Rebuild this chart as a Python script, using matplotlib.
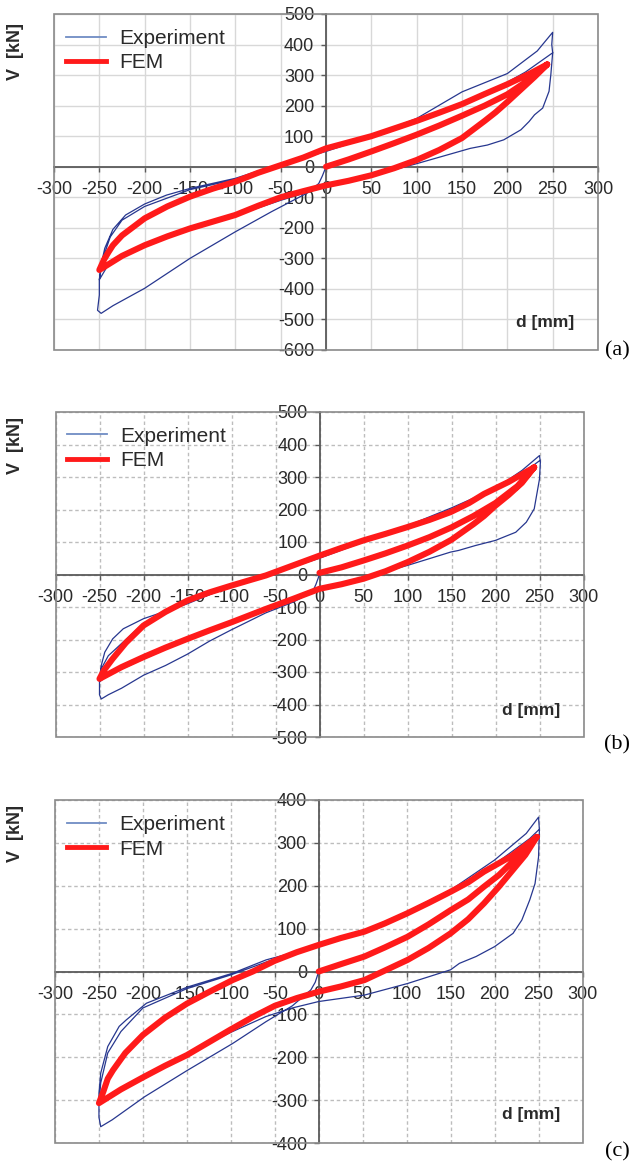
import matplotlib
matplotlib.use("Agg")
import matplotlib.pyplot as plt
from matplotlib.lines import Line2D
from matplotlib.patches import Rectangle

# ---------------- data ----------------
x_ticks = [-300, -250, -200, -150, -100, -50, 0, 50, 100, 150, 200, 250, 300]
y_ticks_a = [-600, -500, -400, -300, -200, -100, 0, 100, 200, 300, 400, 500]
y_ticks_b = [-500, -400, -300, -200, -100, 0, 100, 200, 300, 400, 500]
y_ticks_c = [-400, -300, -200, -100, 0, 100, 200, 300, 400]
panel_labels = ["(a)", "(b)", "(c)"]
series_names = ["Experiment", "FEM"]

# panel (a)
exp_d_a = [0, -4, -8, -20, -60, -100, -150, -200, -235, -248, -252, -250, -250,
           -248, -244, -235, -221, -200, -176, -150, -100, -60, 0, 50, 100, 150, 200, 233, 250,
           249, 250, 248, 246, 239, 230, 224, 215, 196, 178, 159, 100, 50, 0, -50, -100, -150, -200, -240, -250,
           -246, -238, -225, -200, -150, -100, -50, 0, 50, 100, 150, 187, 220, 250]
exp_v_a = [0, -30, -55, -85, -147, -213, -300, -398, -455, -480, -470, -420, -370,
           -320, -267, -205, -158, -122, -93, -71, -38, 0, 50, 100, 158, 245, 305, 379, 440,
           400, 373, 302, 247, 192, 170, 148, 121, 88, 71, 60, 10, -30, -65, -110, -160, -205, -260, -320, -370,
           -300, -230, -175, -130, -75, -42, 5, 55, 100, 152, 210, 255, 310, 373]
fem_d_a = [0, 25, 50, 75, 100, 125, 150, 175, 200, 225, 244,
           230, 215, 200, 187, 175, 150, 125, 100, 75, 50, 25, 0, -25, -50, -75, -100, -125, -150, -175, -200, -225, -250,
           -245, -240, -235, -225, -200, -175, -150, -125, -100, -75, -55, -25, 0, 25, 50, 75, 100, 125, 150, 175, 200, 225, 244]
fem_v_a = [0, 24, 50, 77, 105, 135, 167, 200, 237, 287, 335,
           294, 253, 212, 178, 150, 94, 55, 22, -5, -28, -46, -61, -80, -100, -128, -158, -180, -202, -228, -257, -292, -338,
           -305, -280, -257, -225, -169, -130, -98, -72, -49, -20, 0, 30, 60, 80, 100, 125, 150, 177, 205, 238, 270, 305, 335]

# panel (b)
exp_d_b = [0, -4, -8, -30, -61, -100, -125, -150, -175, -200, -225, -240, -248, -250, -250,
           -248, -244, -235, -223, -200, -150, -100, -61, 0, 50, 100, 150, 200, 230, 250,
           251, 250, 244, 235, 223, 200, 177, 158, 149, 100, 50, 0, -61, -100, -150, -200, -240, -250,
           -248, -240, -220, -200, -150, -100, -50, 0, 50, 100, 150, 200, 240, 250]
exp_v_b = [0, -30, -54, -85, -118, -170, -205, -245, -280, -310, -350, -370, -383, -370, -320,
           -280, -239, -198, -167, -136, -90, -34, -3, 50, 100, 150, 205, 265, 320, 366,
           346, 294, 202, 161, 130, 105, 89, 74, 69, 28, -10, -50, -110, -150, -200, -260, -310, -330,
           -290, -250, -200, -150, -85, -38, 5, 52, 102, 148, 200, 262, 330, 350]
fem_d_b = [0, 25, 50, 75, 100, 125, 150, 175, 200, 225, 244,
           230, 215, 200, 187, 175, 150, 125, 100, 75, 50, 25, 0, -30, -61, -100, -125, -150, -175, -200, -225, -250,
           -245, -235, -220, -200, -175, -150, -125, -100, -80, -61, -30, 0, 25, 50, 75, 100, 125, 149, 170, 187, 215, 244]
fem_v_b = [5, 22, 43, 65, 89, 115, 145, 180, 220, 272, 330,
           282, 245, 212, 180, 155, 107, 70, 38, 10, -13, -30, -44, -75, -106, -147, -172, -198, -225, -254, -285, -321,
           -295, -259, -210, -157, -115, -80, -55, -34, -18, -3, 28, 58, 82, 105, 125, 146, 168, 192, 220, 248, 285, 330]

# panel (c)
exp_d_c = [0, -4, -9, -30, -60, -98, -149, -198, -235, -248, -250, -250,
           -248, -240, -227, -219, -196, -149, -98, -60, 0, 52, 101, 150, 200, 236, 250,
           251, 250, 246, 240, 231, 221, 200, 179, 160, 150, 101, 52, 0, -30, -60, -98, -149, -198, -235, -250,
           -248, -240, -225, -200, -150, -100, -60, 0, 52, 101, 150, 200, 240, 250]
exp_v_c = [0, -25, -43, -80, -117, -168, -230, -292, -346, -362, -340, -284,
           -237, -175, -128, -113, -74, -36, -4, 27, 60, 95, 140, 190, 260, 322, 360,
           330, 267, 205, 167, 120, 89, 58, 35, 19, 4, -28, -55, -70, -85, -105, -140, -190, -245, -285, -310,
           -260, -190, -140, -85, -40, -8, 22, 62, 92, 135, 185, 250, 310, 330]
fem_d_c = [0, 25, 52, 75, 101, 125, 150, 170, 188, 205, 220, 235, 248,
           235, 220, 205, 188, 170, 150, 125, 101, 75, 52, 25, 0, -25, -50, -74, -100, -125, -150, -175, -200, -225, -250,
           -245, -240, -234, -220, -200, -175, -150, -125, -98, -75, -50, -25, 0, 25, 52, 75, 101, 125, 150, 170, 188, 220, 248]
fem_v_c = [0, 17, 35, 56, 81, 110, 143, 168, 198, 225, 255, 285, 314,
           272, 235, 198, 159, 122, 89, 55, 27, 2, -20, -35, -47, -62, -80, -105, -135, -165, -195, -220, -247, -275, -307,
           -280, -250, -230, -190, -148, -108, -75, -48, -20, 0, 25, 45, 62, 78, 93, 112, 136, 160, 186, 208, 233, 270, 314]

# ---------------- styling ----------------
W, H = 631, 1165
fig = plt.figure(figsize=(W / 100, H / 100), dpi=100)

BLUE = "#27378f"
LEG_BLUE = "#6f8cc4"
RED = "#ff1a1a"
TXT = "#2a2a2a"
AXC = "#5a5a5a"
BOX = "#8a8a8a"

# pixel boxes: left, right, top, bottom
boxes = [(54, 598, 14, 350), (55.5, 583.5, 412, 737), (55, 582.5, 800, 1143)]
ylims = [(-600, 500), (-500, 500), (-400, 400)]
yticks = [y_ticks_a, y_ticks_b, y_ticks_c]
exps = [(exp_d_a, exp_v_a), (exp_d_b, exp_v_b), (exp_d_c, exp_v_c)]
fems = [(fem_d_a, fem_v_a), (fem_d_b, fem_v_b), (fem_d_c, fem_v_c)]
grid_styles = ["-", (0, (2.5, 2)), (0, (2.5, 2))]
grid_colors = ["#d8d8d8", "#bdbdbd", "#bdbdbd"]
vlab_y = [51, 446, 834]
dlab = [(545, 322), (531, 710), (531, 1115)]
plab_y = [351, 745, 1152]

for i in range(3):
    l, r, t, b = boxes[i]
    ax = fig.add_axes([l / W, 1 - b / H, (r - l) / W, (b - t) / H])
    ax.set_xlim(-300, 300)
    ax.set_ylim(*ylims[i])
    ax.set_xticks(x_ticks)
    ax.set_yticks(yticks[i])
    ax.set_xticklabels([str(v) for v in x_ticks])
    ax.set_yticklabels([str(v) for v in yticks[i]])

    ax.spines["left"].set_position(("data", 0))
    ax.spines["bottom"].set_position(("data", 0))
    for s in ["left", "bottom"]:
        ax.spines[s].set_color(AXC)
        ax.spines[s].set_linewidth(1.3)
    for s in ["top", "right"]:
        ax.spines[s].set_visible(False)
    ax.add_patch(Rectangle((0, 0), 1, 1, transform=ax.transAxes, fill=False,
                           edgecolor=BOX, lw=1.2, clip_on=False, zorder=3))

    ax.tick_params(axis="both", colors=AXC, labelcolor=TXT, labelsize=13,
                   length=3.5, width=1.0, direction="out")
    ax.tick_params(axis="x", pad=7)
    ax.tick_params(axis="y", pad=5)
    for lab in ax.get_xticklabels() + ax.get_yticklabels():
        lab.set_family("Liberation Sans")

    ax.grid(True, color=grid_colors[i], linestyle=grid_styles[i], linewidth=1.0)

    ed, ev = exps[i]
    fd, fv = fems[i]
    ax.plot(ed, ev, color=BLUE, lw=0.9, zorder=4)
    ax.plot(fd, fv, color=RED, lw=4.4, solid_joinstyle="round",
            solid_capstyle="round", zorder=5)

    handles = [Line2D([], [], color=LEG_BLUE, lw=1.3),
               Line2D([], [], color=RED, lw=3.5)]
    leg = ax.legend(handles, series_names, loc="upper left",
                    bbox_to_anchor=(0.022, 0.955), frameon=False,
                    prop={"family": "Liberation Sans", "size": 15},
                    handlelength=1.9, handletextpad=0.65, labelspacing=0.25,
                    borderpad=0, borderaxespad=0)
    for txt in leg.get_texts():
        txt.set_color(TXT)

    fig.text(16 / W, 1 - vlab_y[i] / H, "V  [kN]", rotation=90, fontsize=13,
             fontweight="bold", family="Liberation Sans", color=TXT,
             ha="center", va="center")
    fig.text(dlab[i][0] / W, 1 - dlab[i][1] / H, "d [mm]", fontsize=12.5,
             fontweight="bold", family="Liberation Sans", color=TXT,
             ha="center", va="center")
    fig.text(630 / W, 1 - plab_y[i] / H, panel_labels[i], fontsize=16,
             family="Liberation Serif", color="black", ha="right", va="center")

fig.savefig("out.png", dpi=100, facecolor="white")
